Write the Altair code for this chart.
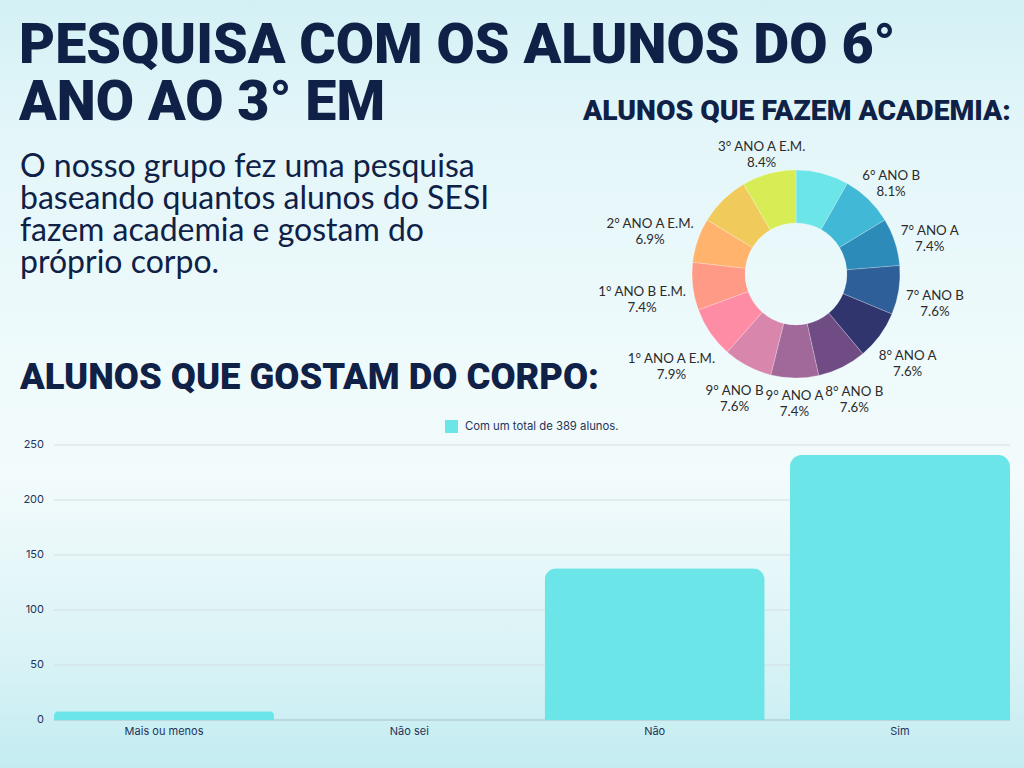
import altair as alt
import pandas as pd

# ---------------- data ----------------
titulo = "PESQUISA COM OS ALUNOS DO 6°\nANO AO 3° EM"
subtitulo = "O nosso grupo fez uma pesquisa\nbaseando quantos alunos do SESI\nfazem academia e gostam do\npróprio corpo."
titulo_pizza = "ALUNOS QUE FAZEM ACADEMIA:"
titulo_barras = "ALUNOS QUE GOSTAM DO CORPO:"

turmas = ["6° ANO A", "6° ANO B", "7° ANO A", "7° ANO B", "8° ANO A", "8° ANO B",
          "9° ANO A", "9° ANO B", "1° ANO A E.M.", "1° ANO B E.M.", "2° ANO A E.M.",
          "2° ANO B E.M.", "3° ANO A E.M."]
percentuais = [8.2, 8.1, 7.4, 7.6, 7.6, 7.6, 7.4, 7.6, 7.9, 7.4, 6.9, 7.9, 8.4]
rotulo_visivel = [False, True, True, True, True, True, True, True, True, True, True, False, True]
cores_turmas = ["#6ce5e8", "#41b8d5", "#2d8bba", "#2f5f98", "#31356e", "#704c84", "#a1689a",
                "#d886ac", "#ff8ca5", "#ff9a86", "#ffb36c", "#f0ca5b", "#d8ed55"]

respostas = ["Mais ou menos", "Não sei", "Não", "Sim"]
alunos = [8, 0, 138, 241]
serie = "Com um total de 389 alunos."
ticks_y = [0, 50, 100, 150, 200, 250]

NAVY = "#0f2147"
TXT = "#24335a"

# ---------------- background & titles ----------------
df_txt = pd.DataFrame({"titulo": [titulo], "subtitulo": [subtitulo],
                       "tp": [titulo_pizza], "tb": [titulo_barras]})

fundo = alt.Chart(df_txt).mark_rect(
    color=alt.LinearGradient(
        gradient="linear", x1=0, x2=0, y1=0, y2=1,
        stops=[alt.GradientStop(color="#d3f1f5", offset=0),
               alt.GradientStop(color="#e4f6f9", offset=0.18),
               alt.GradientStop(color="#eefafb", offset=0.45),
               alt.GradientStop(color="#f3fbfc", offset=0.62),
               alt.GradientStop(color="#daf3f6", offset=0.85),
               alt.GradientStop(color="#c3ecf1", offset=1)])
).encode(x=alt.value(0), x2=alt.value(1024), y=alt.value(0), y2=alt.value(768))

t_main = alt.Chart(df_txt).mark_text(
    font="Roboto", fontWeight=900, fontSize=55.5, color=NAVY, align="left",
    baseline="alphabetic", lineBreak="\n", lineHeight=57
).encode(x=alt.value(19), y=alt.value(63), text="titulo:N")

t_sub = alt.Chart(df_txt).mark_text(
    font="Lato", fontSize=32, color=NAVY, align="left",
    baseline="alphabetic", lineBreak="\n", lineHeight=32
).encode(x=alt.value(20), y=alt.value(177), text="subtitulo:N")

t_pizza = alt.Chart(df_txt).mark_text(
    font="Roboto", fontWeight=900, fontSize=28.3, color=NAVY, align="left",
    baseline="alphabetic"
).encode(x=alt.value(583), y=alt.value(120), text="tp:N")

t_barras = alt.Chart(df_txt).mark_text(
    font="Roboto", fontWeight=900, fontSize=36.4, color=NAVY, align="left",
    baseline="alphabetic"
).encode(x=alt.value(20), y=alt.value(389), text="tb:N")

# ---------------- donut ----------------
df_pie = pd.DataFrame({"turma": turmas, "pct": percentuais,
                       "ordem": list(range(len(turmas))), "visivel": rotulo_visivel})

arcos = alt.Chart(df_pie).mark_arc(innerRadius=51, outerRadius=104, stroke="#ffffff",
                                   strokeWidth=0.4, strokeOpacity=0.6).encode(
    theta=alt.Theta("pct:Q", stack=True),
    order=alt.Order("ordem:Q"),
    x=alt.value(796), y=alt.value(274),
    color=alt.Color("turma:N", scale=alt.Scale(domain=turmas, range=cores_turmas), legend=None),
)

rotulos = alt.Chart(df_pie).transform_window(
    cum="sum(pct)", sort=[alt.SortField("ordem")], frame=[None, 0]
).transform_joinaggregate(total="sum(pct)").transform_calculate(
    mid="(datum.cum - datum.pct/2) / datum.total * 2 * PI",
    rl="117 + 2.9*length(datum.turma)*abs(sin(datum.mid)) + 5*abs(cos(datum.mid))",
    rotulo="datum.visivel ? datum.turma + '\\n' + format(datum.pct, '.1f') + '%' : ''",
).mark_text(font="Lato", fontSize=13.3, color="#2b2b2b", align="center", baseline="middle",
            lineBreak="\n", lineHeight=16).encode(
    x=alt.value(796), y=alt.value(274),
    theta=alt.Theta("mid:Q", scale=None, stack=False),
    radius=alt.Radius("rl:Q", scale=None, stack=False),
    text="rotulo:N",
)

# ---------------- bars ----------------
df_bar = pd.DataFrame({"resposta": respostas, "alunos": alunos, "serie": [serie] * len(respostas)})
df_ticks = pd.DataFrame({"v": ticks_y})

xs = alt.Scale(domain=respostas, range=[54, 1010], paddingInner=0.103, paddingOuter=0)
ys = alt.Scale(domain=[0, 250], range=[720, 445], nice=False, zero=True)

grade = alt.Chart(df_ticks).transform_filter("datum.v > 0").mark_rule(
    color="#d3dde3", strokeWidth=1).encode(
    y=alt.Y("v:Q", scale=ys, axis=None), x=alt.value(54), x2=alt.value(1010))

base0 = alt.Chart(df_ticks).transform_filter("datum.v == 0").mark_rule(
    color="#a7bfc8", strokeWidth=1).encode(
    y=alt.Y("v:Q", scale=ys, axis=None), x=alt.value(54), x2=alt.value(1010))

rot_y = alt.Chart(df_ticks).mark_text(
    font="Inter", fontSize=11, color=TXT, align="right", baseline="middle").encode(
    y=alt.Y("v:Q", scale=ys, axis=None), x=alt.value(44), text="v:Q")

barras = alt.Chart(df_bar).mark_bar(cornerRadiusTopLeft=12, cornerRadiusTopRight=12).encode(
    x=alt.X("resposta:N", scale=xs, axis=None),
    y=alt.Y("alunos:Q", scale=ys, axis=None),
    color=alt.Color("serie:N", scale=alt.Scale(domain=[serie], range=["#6ce5e8"]),
                    legend=alt.Legend(orient="none", legendX=445, legendY=420, title=None,
                                      symbolType="square", symbolSize=169,
                                      symbolStrokeWidth=0, labelFont="Inter",
                                      labelOffset=7, labelFontSize=11.3, labelColor=TXT)),
)

rot_x = alt.Chart(df_bar).mark_text(
    font="Inter", fontSize=11, color=TXT, align="center", baseline="middle").encode(
    x=alt.X("resposta:N", scale=xs, axis=None), y=alt.value(732), text="resposta:N")

chart = alt.layer(
    fundo, t_main, t_sub, t_pizza, t_barras, arcos, rotulos,
    grade, base0, barras, rot_y, rot_x
).resolve_scale(color="independent").properties(
    width=1024, height=768, padding=0,
    autosize=alt.AutoSizeParams(type="none"),
).configure_view(stroke=None).configure(background="#e8f7f9")

chart.save("out.html", embed_options={"renderer": "svg", "actions": False})
